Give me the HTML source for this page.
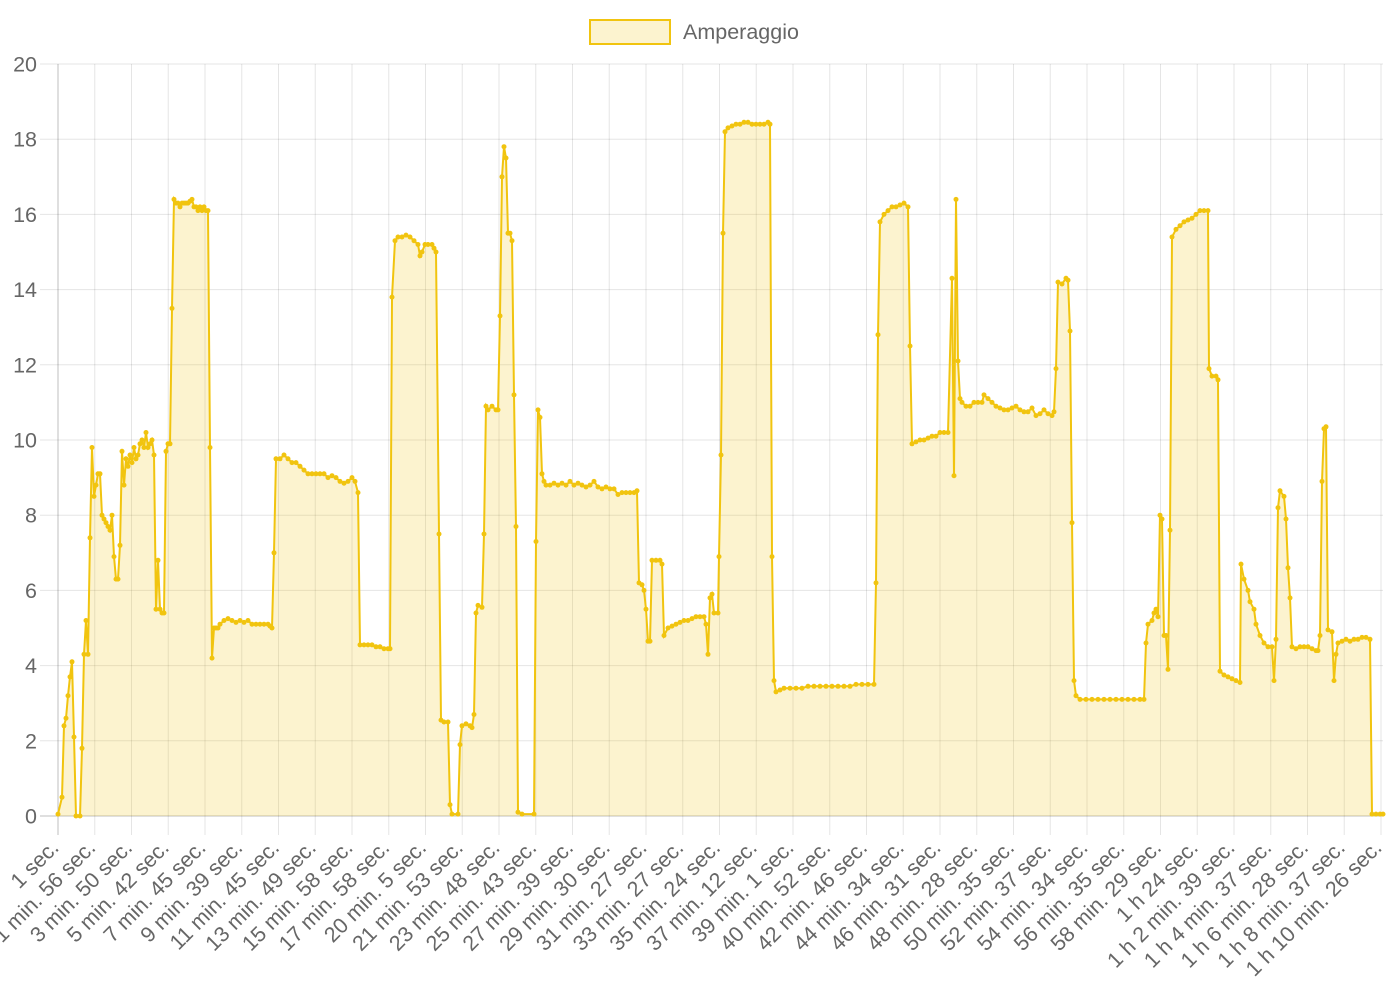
<!DOCTYPE html>
<html><head><meta charset="utf-8"><style>
html,body{margin:0;padding:0;background:#fff;}
svg{display:block;font-family:"Liberation Sans",sans-serif;}
</style></head><body>
<svg id="c" width="1400" height="1000" xmlns="http://www.w3.org/2000/svg"></svg>
<script>
var d=[58,0.05,62,0.5,64,2.4,66,2.6,68,3.2,70,3.7,72,4.1,74,2.1,76,0,80,0,82,1.8,84,4.3,86,5.2,88,4.3,90,7.4,92,9.8,94,8.5,96,8.8,98,9.1,100,9.1,102,8.0,104,7.9,106,7.8,108,7.7,110,7.6,112,8.0,114,6.9,116,6.3,118,6.3,120,7.2,122,9.7,124,8.8,126,9.5,128,9.3,130,9.6,132,9.4,134,9.8,136,9.5,138,9.6,140,9.9,142,10.0,144,9.8,146,10.2,148,9.8,150,9.9,152,10.0,154,9.6,156,5.5,158,6.8,160,5.5,162,5.4,164,5.4,166,9.7,168,9.9,170,9.9,172,13.5,174,16.4,176,16.3,178,16.3,180,16.2,182,16.3,184,16.3,186,16.3,188,16.3,190,16.35,192,16.4,194,16.2,196,16.2,198,16.1,200,16.2,202,16.1,204,16.2,206,16.1,208,16.1,210,9.8,212,4.2,214,5.0,216,5.0,218,5.0,220,5.1,224,5.2,228,5.25,232,5.2,236,5.15,240,5.2,244,5.15,248,5.2,252,5.1,256,5.1,260,5.1,264,5.1,268,5.1,270,5.05,272,5.0,274,7.0,276,9.5,280,9.5,284,9.6,288,9.5,292,9.4,296,9.4,300,9.3,304,9.2,308,9.1,312,9.1,316,9.1,320,9.1,324,9.1,328,9.0,332,9.05,336,9.0,340,8.9,344,8.85,348,8.9,352,9.0,355,8.9,358,8.6,360,4.55,364,4.55,368,4.55,372,4.55,376,4.5,380,4.5,384,4.45,388,4.45,390,4.45,392,13.8,395,15.3,398,15.4,402,15.4,406,15.45,410,15.4,414,15.3,418,15.2,420,14.9,422,15.0,425,15.2,428,15.2,432,15.2,434,15.1,436,15.0,439,7.5,441,2.55,444,2.5,448,2.5,450,0.3,452,0.05,458,0.05,460,1.9,462,2.4,466,2.45,470,2.4,472,2.35,474,2.7,476,5.4,478,5.6,482,5.55,484,7.5,486,10.9,488,10.8,492,10.9,496,10.8,498,10.8,500,13.3,502,17.0,504,17.8,506,17.5,508,15.5,510,15.5,512,15.3,514,11.2,516,7.7,518,0.1,522,0.05,534,0.05,536,7.3,538,10.8,540,10.6,542,9.1,544,8.9,546,8.8,550,8.8,554,8.85,558,8.8,562,8.85,566,8.8,570,8.9,574,8.8,578,8.85,582,8.8,586,8.75,590,8.8,594,8.9,598,8.75,602,8.7,606,8.75,610,8.7,614,8.7,618,8.55,622,8.6,626,8.6,630,8.6,634,8.6,637,8.65,639,6.2,642,6.15,644,6.0,646,5.5,648,4.65,650,4.65,652,6.8,656,6.8,660,6.8,662,6.7,664,4.8,668,5.0,672,5.05,676,5.1,680,5.15,684,5.2,688,5.2,692,5.25,696,5.3,700,5.3,704,5.3,706,5.1,708,4.3,710,5.8,712,5.9,714,5.4,718,5.4,719,6.9,721,9.6,723,15.5,725,18.2,728,18.3,732,18.35,736,18.4,740,18.4,744,18.45,748,18.45,752,18.4,756,18.4,760,18.4,764,18.4,768,18.45,770,18.4,772,6.9,774,3.6,776,3.3,780,3.35,784,3.4,790,3.4,796,3.4,802,3.4,808,3.45,814,3.45,820,3.45,826,3.45,832,3.45,838,3.45,844,3.45,850,3.45,856,3.5,862,3.5,868,3.5,874,3.5,876,6.2,878,12.8,880,15.8,884,16.0,888,16.1,892,16.2,896,16.2,900,16.25,904,16.3,908,16.2,910,12.5,912,9.9,916,9.95,920,10.0,924,10.0,928,10.05,932,10.1,936,10.1,940,10.2,944,10.2,948,10.2,952,14.3,954,9.05,956,16.4,958,12.1,960,11.1,962,11.0,966,10.9,970,10.9,974,11.0,978,11.0,982,11.0,984,11.2,988,11.1,992,11.0,996,10.9,1000,10.85,1004,10.8,1008,10.8,1012,10.85,1016,10.9,1020,10.8,1024,10.75,1028,10.75,1032,10.85,1036,10.65,1040,10.7,1044,10.8,1048,10.7,1052,10.65,1054,10.75,1056,11.9,1058,14.2,1062,14.15,1066,14.3,1068,14.25,1070,12.9,1072,7.8,1074,3.6,1076,3.2,1080,3.1,1086,3.1,1092,3.1,1098,3.1,1104,3.1,1110,3.1,1116,3.1,1122,3.1,1128,3.1,1134,3.1,1140,3.1,1144,3.1,1146,4.6,1148,5.1,1152,5.2,1154,5.4,1156,5.5,1158,5.3,1160,8.0,1162,7.9,1164,4.8,1166,4.8,1168,3.9,1170,7.6,1172,15.4,1176,15.6,1180,15.7,1184,15.8,1188,15.85,1192,15.9,1196,16.0,1200,16.1,1204,16.1,1208,16.1,1209,11.9,1212,11.7,1216,11.7,1218,11.6,1220,3.85,1224,3.75,1228,3.7,1232,3.65,1236,3.6,1240,3.55,1241,6.7,1244,6.3,1248,6.0,1250,5.7,1254,5.5,1256,5.1,1260,4.8,1264,4.6,1268,4.5,1272,4.5,1274,3.6,1276,4.7,1278,8.2,1280,8.65,1284,8.5,1286,7.9,1288,6.6,1290,5.8,1292,4.5,1296,4.45,1300,4.5,1304,4.5,1308,4.5,1312,4.45,1316,4.4,1318,4.4,1320,4.8,1322,8.9,1324,10.3,1326,10.35,1328,4.95,1332,4.9,1334,3.6,1336,4.3,1338,4.6,1342,4.65,1346,4.7,1350,4.65,1354,4.7,1358,4.7,1362,4.75,1366,4.75,1370,4.7,1372,0.05,1376,0.05,1380,0.05,1383,0.05];
var labels=["1 sec.","1 min. 56 sec.","3 min. 50 sec.","5 min. 42 sec.","7 min. 45 sec.","9 min. 39 sec.","11 min. 45 sec.","13 min. 49 sec.","15 min. 58 sec.","17 min. 58 sec.","20 min. 5 sec.","21 min. 53 sec.","23 min. 48 sec.","25 min. 43 sec.","27 min. 39 sec.","29 min. 30 sec.","31 min. 27 sec.","33 min. 27 sec.","35 min. 24 sec.","37 min. 12 sec.","39 min. 1 sec.","40 min. 52 sec.","42 min. 46 sec.","44 min. 34 sec.","46 min. 31 sec.","48 min. 28 sec.","50 min. 35 sec.","52 min. 37 sec.","54 min. 34 sec.","56 min. 35 sec.","58 min. 29 sec.","1 h 24 sec.","1 h 2 min. 39 sec.","1 h 4 min. 37 sec.","1 h 6 min. 28 sec.","1 h 8 min. 37 sec.","1 h 10 min. 26 sec."];
var Y=function(v){return 816-v*37.6;};
var s='';
s+='<rect x="590" y="20" width="80" height="24" fill="rgba(241,196,15,0.2)" stroke="#f1c40f" stroke-width="2"/>';
s+='<text x="683" y="39" font-size="21.5" fill="#666">Amperaggio</text>';
for(var i=0;i<=10;i++){var y=Y(i*2);s+='<line x1="40" x2="1383" y1="'+y+'" y2="'+y+'" stroke="'+(i==0?'rgba(0,0,0,0.25)':'rgba(0,0,0,0.1)')+'" stroke-width="1"/>';
s+='<text x="37" y="'+(y+7.5)+'" font-size="21.5" fill="#666" text-anchor="end">'+(i*2)+'</text>';}
for(var k=0;k<37;k++){var x=58+k*36.75;s+='<line x1="'+x+'" x2="'+x+'" y1="64" y2="835" stroke="'+(k==0?'rgba(0,0,0,0.25)':'rgba(0,0,0,0.1)')+'"/>';
s+='<text transform="translate('+(x+2)+',849) rotate(-45)" font-size="21.5" fill="#666" text-anchor="end">'+labels[k]+'</text>';}
var p='';for(var j=0;j<d.length;j+=2){p+=(j?'L':'M')+d[j]+','+Y(d[j+1]).toFixed(1);}
s+='<path d="'+p+'L1383,816L58,816Z" fill="rgba(241,196,15,0.2)"/>';
s+='<path d="'+p+'" fill="none" stroke="#f1c40f" stroke-width="2"/>';
for(var j=0;j<d.length;j+=2){s+='<circle cx="'+d[j]+'" cy="'+Y(d[j+1]).toFixed(1)+'" r="2.5" fill="#f1c40f"/>';}
document.getElementById('c').innerHTML=s;
</script>
</body></html>
